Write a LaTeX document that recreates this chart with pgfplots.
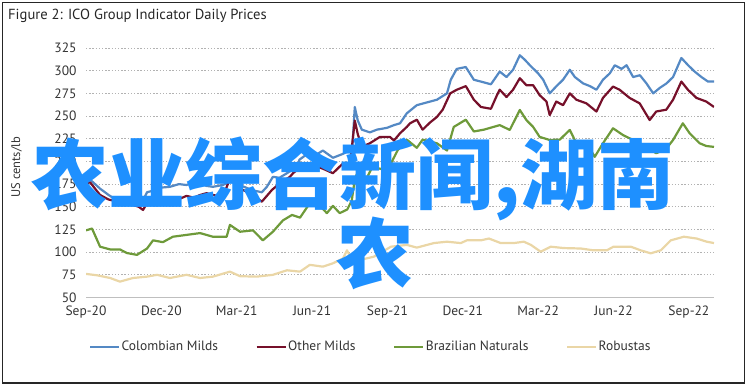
\documentclass[border=0pt]{standalone}
\usepackage{pgfplots}
\pgfplotsset{compat=1.18}
\usepackage{fontspec}
\setmainfont{PT Sans}
\newfontfamily\cjk{Noto Sans CJK SC}
\definecolor{colblue}{RGB}{84,137,196}
\definecolor{othred}{RGB}{118,16,42}
\definecolor{brzgreen}{RGB}{110,154,58}
\definecolor{robtan}{RGB}{234,214,166}
\definecolor{wmblue}{RGB}{30,144,255}
\begin{document}
\begin{tikzpicture}
\path[use as bounding box] (0bp,0bp) rectangle (748bp,-387bp);
\draw[line width=1.6bp, black!85] (2.6bp,-2.6bp) rectangle (744.6bp,-383bp);
\node[anchor=base west, inner sep=0pt, font=\fontsize{14.6bp}{17bp}\selectfont, text=black!85] at (8bp,-19.5bp) {Figure 2: ICO Group Indicator Daily Prices};
\node[rotate=90, inner sep=0pt, font=\fontsize{12.5bp}{15bp}\selectfont, text=black!80] at (16.5bp,-167.5bp) {US cents/lb};
\begin{axis}[
  at={(86bp,-297.5bp)}, anchor=south west,
  scale only axis, width=628bp, height=249.5bp,
  xmin=0, xmax=25, ymin=50, ymax=325,
  xtick={0,3,...,24},
  xticklabels={Sep-20,Dec-20,Mar-21,Jun-21,Sep-21,Dec-21,Mar-22,Jun-22,Sep-22},
  ytick={50,75,...,325},
  axis x line*=bottom, axis y line*=left,
  x axis line style={-, draw=black!25, line width=1bp},
  y axis line style={draw=none},
  major tick length=0pt,
  ymajorgrids,
  grid style={draw=black!30, line width=1bp, dash pattern=on 1.3bp off 1.9bp},
  /pgf/number format/assume math mode=true,
  tick label style={font=\fontsize{13.5bp}{16bp}\selectfont, text=black!80},
  yticklabel style={xshift=-6bp},
  xticklabel style={yshift=-5bp},
  legend columns=4,
  legend style={draw=none, fill=none, at={(0.453,-0.198)}, anchor=center,
    font=\fontsize{13.5bp}{16bp}\selectfont, text=black!80,
    /tikz/every even column/.append style={column sep=36bp},
    nodes={inner xsep=1.5bp, inner ysep=1bp}},
  legend image code/.code={\draw[#1, line width=2.2bp] (0bp,0bp) -- (29bp,0bp);},
  every axis plot/.append style={line width=2.2bp, line join=round},
]
\addplot[colblue] coordinates {
(0.04,179)(0.16,180)(0.56,170)(0.9,163)(1.23,157)(1.55,155)(1.87,152)(2.1,154)(2.27,157)(2.43,166)(2.7,168)(2.94,171)(3.34,172)(3.7,175)(4.0,174)(4.3,177)(4.54,176)(4.8,173)(5.05,172)(5.45,174)(5.85,179)(6.2,173)(6.65,168)(7.0,166)(7.2,172)(7.44,183)(7.7,182)(8.0,187)(8.4,194)(8.5,202)(8.9,210)(9.2,208)(9.43,212)(9.83,204)(10.2,208)(10.5,212)(10.6,214)(10.7,260)(10.82,245)(10.98,235)(11.3,232)(11.58,235)(11.98,237)(12.26,240)(12.5,242)(12.77,253)(13.17,262)(13.57,265)(13.97,268)(14.37,275)(14.52,290)(14.76,302)(15.12,304)(15.44,290)(15.72,288)(16.12,285)
(16.47,299)(16.74,293)(17.0,301)(17.27,317)(17.47,312)(17.67,306)(18.0,297)(18.2,290)(18.46,275)(18.73,283)(18.99,290)(19.26,301)(19.46,293)(19.79,286)(20.06,283)(20.32,279)(20.58,290)(20.85,297)(21.05,306)(21.32,302)(21.52,306)(21.78,293)(22.05,295)(22.31,286)(22.58,275)(22.84,281)(23.11,286)(23.37,293)(23.7,314)(23.97,306)(24.23,299)(24.5,293)(24.76,288)(25.0,288)
};
\addlegendentry{Colombian Milds}
\addplot[othred] coordinates {
(0.04,176)(0.16,177)(0.56,163)(0.9,158)(1.23,156)(1.55,154)(1.87,152)(2.1,150)(2.27,146.5)(2.43,154)(2.67,156)(2.94,158)(3.2,156)(3.46,160)(3.75,159)(4.0,162)(4.3,160)(4.54,163)(4.8,165)(5.05,163)(5.45,161)(5.73,181)(6.13,170)(6.53,165)(7.0,155.6)(7.4,168.5)(7.72,176)(8.12,183)(8.24,187)(8.6,195)(8.91,198)(9.2,194)(9.43,192)(9.83,187)(10.2,197)(10.5,194)(10.7,245)(10.82,230)(10.98,216)(11.3,220)(11.7,227)(12.1,227)(12.26,223)(12.5,231)(12.77,238)(12.9,242)(13.17,246)(13.4,235)(13.7,243)(13.97,249)(14.2,257)(14.5,275)(14.76,279)(15.12,283)(15.44,268)(15.72,260)(16.12,258)(16.36,273)
(16.47,279)(16.74,271)(17.0,279)(17.27,291.7)(17.53,284)(17.8,284)(18.06,273)(18.33,266)(18.46,251)(18.72,266)(18.99,262)(19.26,275)(19.52,268)(19.92,264)(20.32,255)(20.58,270)(20.98,282.5)(21.24,279)(21.64,270)(22.04,264)(22.44,245.6)(22.7,255)(23.1,257)(23.37,268)(23.7,288)(23.96,279)(24.3,270)(24.69,266)(25.0,260)
};
\addlegendentry{Other Milds}
\addplot[brzgreen] coordinates {
(0,124)(0.24,126)(0.56,106)(0.96,103)(1.35,103)(1.63,99)(2.03,97)(2.43,104)(2.67,113)(3.06,111)(3.46,117)(4.0,119)(4.54,121)(5.05,117)(5.6,117)(5.73,130)(6.13,122.5)(6.65,124)(7.04,113)(7.44,122.5)(7.84,135)(8.2,141)(8.52,138)(8.91,154)(9.31,151)(9.59,143)(9.83,151)(10.1,143)(10.4,147)(10.58,157)(10.7,180)(10.78,186)(11.0,172)(11.4,194)(12.0,190)(12.4,212)(12.77,224)(13.17,215)(13.4,224)(13.97,220)(14.37,212)(14.64,238)(15.12,246)(15.44,233)(15.84,235)
(16.47,240)(16.87,234.7)(17.27,256.7)(17.53,245.6)(17.8,238)(18.06,227)(18.46,223.6)(18.86,224)(19.26,234.7)(19.52,220)(19.92,221)(20.25,205)(20.58,220)(20.98,236.5)(21.38,229)(21.78,223.6)(22.3,216)(22.7,209)(23.1,214)(23.37,223.6)(23.76,242)(24.03,231)(24.43,220)(24.69,217)(25.0,216)
};
\addlegendentry{Brazilian Naturals}
\addplot[robtan] coordinates {
(0,76)(0.44,74.5)(0.96,71.5)(1.35,67.5)(1.87,71.5)(2.43,73)(2.83,75)(3.34,71.5)(4.0,75)(4.54,71.5)(5.05,73)(5.73,78.5)(6.13,73.5)(6.8,73)(7.44,75)(8.0,80)(8.52,78.5)(8.91,86)(9.43,84)(9.83,87.7)(10.23,93)(10.39,102)(10.62,89.5)(11.46,95)(12.14,106)(12.77,108)(13.17,105)(13.85,110)(14.37,111.5)(14.92,110)(15.16,113)(15.72,113)(16.04,115)(16.51,110)(17.03,110)(17.43,111.5)(17.71,108)(18.1,100.5)(18.5,106)(19.02,104.5)(19.7,104)(20.2,102)(20.73,102)(21.0,106)(21.69,106)(22.08,102)(22.48,98.7)(22.88,102)(23.28,113)(23.8,117)(24.31,115)(24.71,111.5)(25.0,110)
};
\addlegendentry{Robustas}
\end{axis}
\node[anchor=base west, inner sep=0pt, text=wmblue, font=\cjk\bfseries\fontsize{77bp}{80bp}\selectfont] at (31bp,-203bp) {农业综合新闻,湖南};
\node[anchor=base west, inner sep=0pt, text=wmblue, font=\cjk\bfseries\fontsize{77bp}{80bp}\selectfont] at (336bp,-282bp) {农};
\end{tikzpicture}
\end{document}
